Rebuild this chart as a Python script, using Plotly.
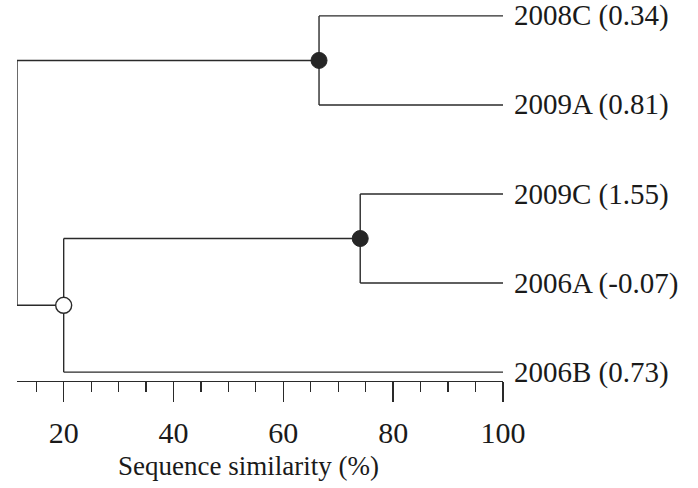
import plotly.graph_objects as go

# ---- data ----
leaf_names = ["2008C", "2009A", "2009C", "2006A", "2006B"]
leaf_scores = [0.34, 0.81, 1.55, -0.07, 0.73]
# merges: (child_a, child_b, similarity %); leaves are 0..4, merged clusters 5..
merge_a = [0, 2, 6, 5]
merge_b = [1, 3, 4, 7]
merge_sim = [66.5, 74.0, 20.0, 11.5]
merge_marker = ["filled", "filled", "open", "none"]
tick_vals = [20, 40, 60, 80, 100]
x_min, x_max = 11.5, 100
x_title = "Sequence similarity (%)"

# ---- build dendrogram geometry ----
n = len(leaf_names)
pos_y = {i: float(n - 1 - i) for i in range(n)}
pos_x = {i: float(x_max) for i in range(n)}
seg_x, seg_y = [], []
for k, (a, b, s) in enumerate(zip(merge_a, merge_b, merge_sim)):
    node = n + k
    for c in (a, b):
        seg_x += [pos_x[c], s, None]
        seg_y += [pos_y[c], pos_y[c], None]
    seg_x += [s, s, None]
    seg_y += [pos_y[a], pos_y[b], None]
    pos_x[node] = s
    pos_y[node] = (pos_y[a] + pos_y[b]) / 2

line_col = "#2a2a2a"
font_fam = "Liberation Serif"
fsize = 29
txt_col = "#1a1a1a"

fig = go.Figure()
fig.add_trace(go.Scatter(x=seg_x, y=seg_y, mode="lines",
                         line=dict(color=line_col, width=1.4),
                         hoverinfo="skip", showlegend=False, cliponaxis=False))

fx = [pos_x[n + k] for k, m in enumerate(merge_marker) if m == "filled"]
fy = [pos_y[n + k] for k, m in enumerate(merge_marker) if m == "filled"]
ox = [pos_x[n + k] for k, m in enumerate(merge_marker) if m == "open"]
oy = [pos_y[n + k] for k, m in enumerate(merge_marker) if m == "open"]
fig.add_trace(go.Scatter(x=fx, y=fy, mode="markers",
                         marker=dict(size=16, color="#262626",
                                     line=dict(color="#262626", width=1)),
                         showlegend=False, cliponaxis=False))
fig.add_trace(go.Scatter(x=ox, y=oy, mode="markers",
                         marker=dict(size=16, color="white",
                                     line=dict(color=line_col, width=1.4)),
                         showlegend=False, cliponaxis=False))

for i, (nm, sc) in enumerate(zip(leaf_names, leaf_scores)):
    fig.add_annotation(x=x_max, y=pos_y[i], xref="x", yref="y",
                       text=f"{nm} ({sc:.2f})", showarrow=False,
                       xanchor="left", yanchor="middle", xshift=9,
                       font=dict(family=font_fam, size=fsize, color=txt_col))

# axis title placed as annotation (slightly left of axis centre, as in the original)
fig.add_annotation(x=53.7, y=-0.219, xref="x", yref="paper",
                   text=x_title, showarrow=False, yshift=-3,
                   xanchor="center", yanchor="middle",
                   font=dict(family=font_fam, size=27, color=txt_col))

fig.update_layout(
    width=698, height=488,
    margin=dict(l=17, r=195, t=7, b=107),
    plot_bgcolor="white", paper_bgcolor="white",
    font=dict(family=font_fam, size=fsize, color=txt_col),
    hovermode=False,
    xaxis=dict(range=[x_min, x_max], showgrid=False, zeroline=False,
               automargin=False, fixedrange=True,
               showline=True, linecolor=line_col, linewidth=1.4,
               ticks="outside", ticklen=20, tickwidth=1.6, tickcolor=line_col,
               tickmode="array", tickvals=tick_vals,
               ticktext=[str(v) for v in tick_vals],
               ticklabelstandoff=5,
               tickfont=dict(family=font_fam, size=30, color=txt_col),
               minor=dict(ticks="outside", ticklen=10, tickwidth=1.2,
                          tickcolor=line_col, dtick=5, tick0=0)),
    yaxis=dict(range=[-0.1, 4.1], visible=False, automargin=False,
               fixedrange=True),
)

fig.write_html("out.html",
               config={"displayModeBar": False, "staticPlot": True},
               post_script="document.body.style.margin='0';document.body.style.overflow='hidden';")
